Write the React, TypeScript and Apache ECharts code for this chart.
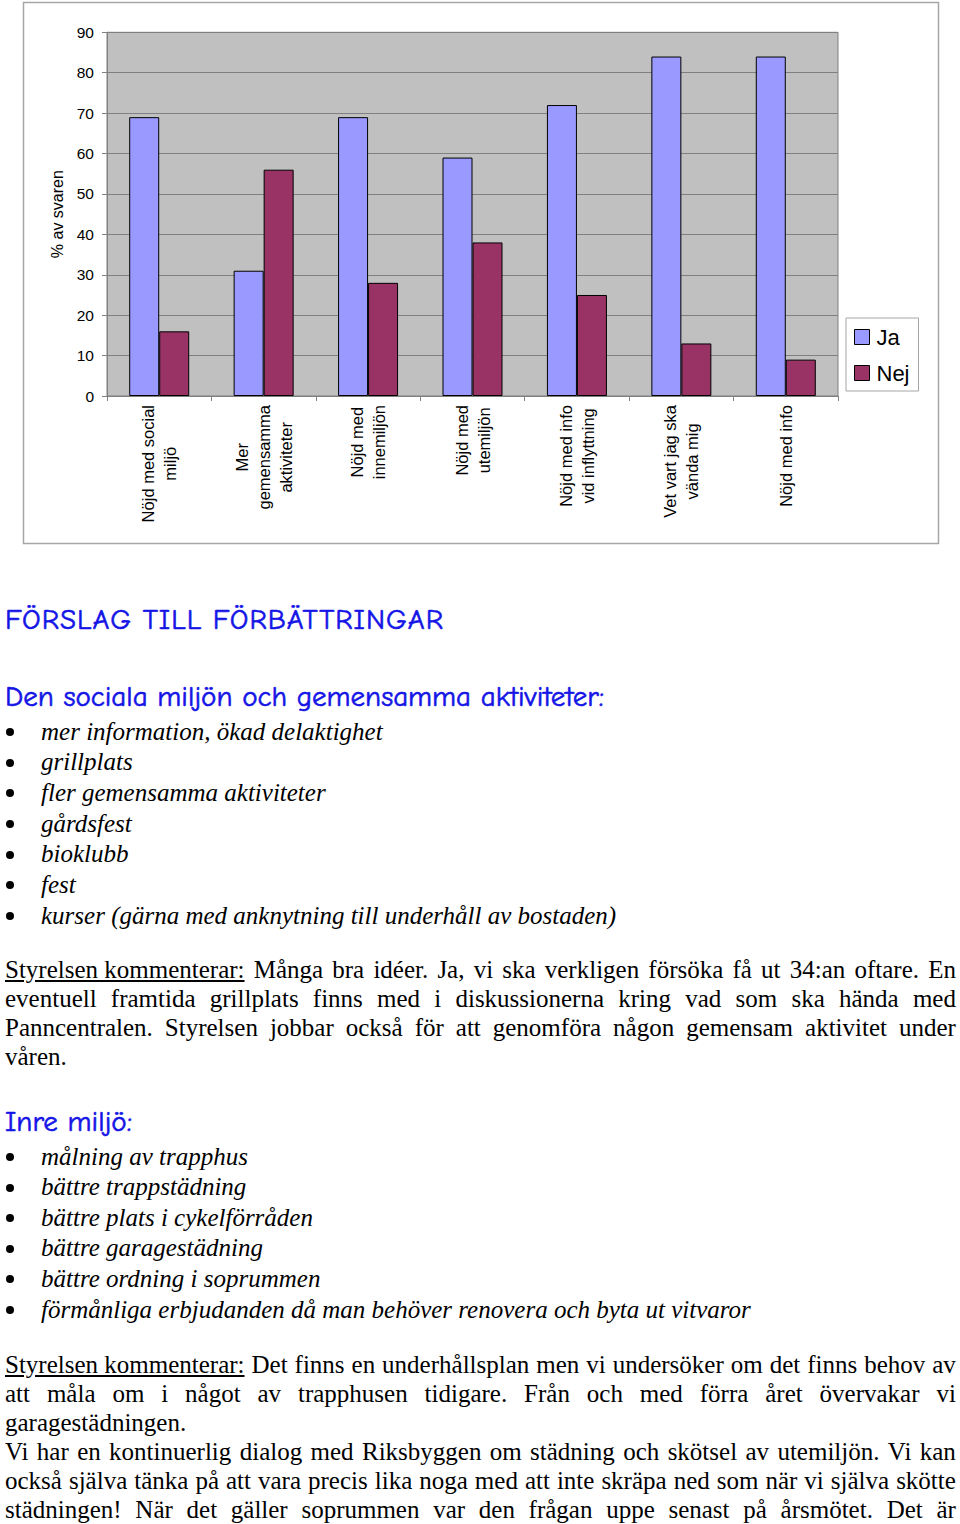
import React, { useEffect, useRef } from "react";
import * as echarts from "echarts";

const categories = [
  "Nöjd med social\nmiljö",
  "Mer\ngemensamma\naktiviteter",
  "Nöjd med\ninnemiljön",
  "Nöjd med\nutemiljön",
  "Nöjd med info\nvid inflyttning",
  "Vet vart jag ska\nvända mig",
  "Nöjd med info",
];
const jaValues = [69, 31, 69, 59, 72, 84, 84];
const nejValues = [16, 56, 28, 38, 25, 13, 9];
const seriesNames = ["Ja", "Nej"];
const yMin = 0;
const yMax = 90;
const yInterval = 10;
const yAxisName = "% av svaren";

const heading1 = "FÖRSLAG TILL FÖRBÄTTRINGAR";
const heading2 = "Den sociala miljön och gemensamma aktiviteter:";
const list1 = [
  "mer information, ökad delaktighet",
  "grillplats",
  "fler gemensamma aktiviteter",
  "gårdsfest",
  "bioklubb",
  "fest",
  "kurser (gärna med anknytning till underhåll av bostaden)",
];
const comment = "Styrelsen kommenterar:";
const para1 = [
  "Många bra idéer. Ja, vi ska verkligen försöka få ut 34:an oftare. En",
  "eventuell framtida grillplats finns med i diskussionerna kring vad som ska hända med",
  "Panncentralen. Styrelsen jobbar också för att genomföra någon gemensam aktivitet under",
  "våren.",
];
const heading3 = "Inre miljö:";
const list2 = [
  "målning av trapphus",
  "bättre trappstädning",
  "bättre plats i cykelförråden",
  "bättre garagestädning",
  "bättre ordning i soprummen",
  "förmånliga erbjudanden då man behöver renovera och byta ut vitvaror",
];
const para2 = [
  "Det finns en underhållsplan men vi undersöker om det finns behov av",
  "att måla om i något av trapphusen tidigare. Från och med förra året övervakar vi",
  "garagestädningen.",
  "Vi har en kontinuerlig dialog med Riksbyggen om städning och skötsel av utemiljön. Vi kan",
  "också själva tänka på att vara precis lika noga med att inte skräpa ned som när vi själva skötte",
  "städningen! När det gäller soprummen var den frågan uppe senast på årsmötet. Det är",
];
const para2Justified = [true, true, false, true, true, true];
const para1Justified = [true, true, true, false];

const ARIAL = 'Arial, "Liberation Sans", sans-serif';
const SERIF = '"Times New Roman", "Liberation Serif", serif';
const COMIC = '"Comic Sans MS", "Comic Neue", Lato, sans-serif';
const BLUE = "#1414E6";

function Chart() {
  const ref = useRef<HTMLDivElement>(null);
  useEffect(() => {
    if (!ref.current) return;
    const chart = echarts.init(ref.current, null, { renderer: "svg" });
    chart.setOption({
      animation: false,
      textStyle: { fontFamily: ARIAL },
      graphic: [
        {
          type: "rect",
          shape: { x: 23.5, y: 2.5, width: 915, height: 541 },
          style: { fill: "none", stroke: "#A6A6A6", lineWidth: 1.5 },
          z: -10,
        },
      ],
      grid: {
        left: 107,
        right: 122,
        top: 32.3,
        bottom: 154,
        show: true,
        backgroundColor: "#C0C0C0",
        borderColor: "#808080",
        borderWidth: 1,
      },
      legend: {
        orient: "vertical",
        left: 846,
        top: 318,
        padding: [7, 9, 6, 8],
        itemWidth: 15,
        itemHeight: 15,
        itemGap: 12,
        backgroundColor: "#FFFFFF",
        borderColor: "#A6A6A6",
        borderWidth: 1,
        icon: "rect",
        itemStyle: { borderColor: "#000000", borderWidth: 1 },
        textStyle: { fontSize: 22, lineHeight: 24, color: "#000", fontFamily: ARIAL, padding: [0, 0, 0, 2] },
        data: seriesNames,
      },
      xAxis: {
        type: "category",
        data: categories,
        axisLine: { show: true, lineStyle: { color: "#808080", width: 1 } },
        axisTick: { show: true, length: 5, lineStyle: { color: "#808080" } },
        splitLine: { show: false },
        axisLabel: {
          interval: 0,
          rotate: 90,
          margin: 9,
          color: "#000",
          fontSize: 16.5,
          lineHeight: 22,
          fontFamily: ARIAL,
          formatter: (v: string) => v.split("\n").map((l) => `{c|${l}}`).join("\n"),
          rich: {
            c: { align: "center", fontSize: 16.5, lineHeight: 22, color: "#000", fontFamily: ARIAL },
          },
        },
      },
      yAxis: {
        type: "value",
        min: yMin,
        max: yMax,
        interval: yInterval,
        name: yAxisName,
        nameLocation: "middle",
        nameGap: 40,
        nameTextStyle: { fontSize: 16, color: "#000", fontFamily: ARIAL },
        axisLine: { show: true, lineStyle: { color: "#808080", width: 1 } },
        axisTick: { show: true, length: 5, lineStyle: { color: "#808080" } },
        splitLine: { show: true, lineStyle: { color: "#808080", width: 1 } },
        axisLabel: { margin: 13, color: "#000", fontSize: 15.5, fontFamily: ARIAL },
      },
      series: [
        {
          name: seriesNames[0],
          type: "bar",
          data: jaValues,
          barWidth: 30,
          barGap: "0%",
          itemStyle: { color: "#9999FF", borderColor: "#000000", borderWidth: 1 },
        },
        {
          name: seriesNames[1],
          type: "bar",
          data: nejValues,
          barWidth: 30,
          barGap: "0%",
          itemStyle: { color: "#993366", borderColor: "#000000", borderWidth: 1 },
        },
      ],
    });
    return () => chart.dispose();
  }, []);
  return <div ref={ref} style={{ position: "absolute", left: 0, top: 0, width: 960, height: 550 }} />;
}

const bodyFont: React.CSSProperties = { fontFamily: SERIF, fontSize: 25, color: "#000" };

function Heading({ text, top, spacing }: { text: string; top: number; spacing?: number }) {
  return (
    <div
      style={{
        position: "absolute",
        left: 5,
        top,
        fontFamily: COMIC,
        fontSize: 29,
        lineHeight: "32px",
        color: BLUE,
        whiteSpace: "nowrap",
        letterSpacing: spacing ?? 0,
        WebkitTextStroke: `0.6px ${BLUE}`,
      }}
    >
      {text}
    </div>
  );
}

function BulletList({ items, top, lh }: { items: string[]; top: number; lh: number }) {
  return (
    <div style={{ position: "absolute", left: 0, top, width: 960 }}>
      {items.map((t, i) => (
        <div key={i} style={{ position: "relative", height: lh, lineHeight: `${lh}px`, ...bodyFont }}>
          <span
            style={{
              position: "absolute",
              left: 6,
              top: lh / 2 - 4,
              width: 8,
              height: 8,
              borderRadius: "50%",
              background: "#000",
            }}
          />
          <span style={{ position: "absolute", left: 41, fontStyle: "italic", whiteSpace: "nowrap" }}>{t}</span>
        </div>
      ))}
    </div>
  );
}

function JustLine({ text, lead, justify, lh }: { text: string; lead?: boolean; justify: boolean; lh: number }) {
  const words = text.split(" ");
  const parts: React.ReactNode[] = [];
  if (lead) {
    parts.push(
      <span key="lead" style={{ textDecoration: "underline", whiteSpace: "pre" }}>
        {comment}
      </span>
    );
  }
  words.forEach((w, i) => parts.push(<span key={i} style={{ whiteSpace: "pre" }}>{w}</span>));
  return (
    <div
      style={{
        display: "flex",
        justifyContent: justify ? "space-between" : "flex-start",
        gap: justify ? 0 : "0.25em",
        height: lh,
        lineHeight: `${lh}px`,
        whiteSpace: "nowrap",
        ...bodyFont,
      }}
    >
      {parts}
    </div>
  );
}

function Paragraph({ lines, just, top, lh, leadFirst }: { lines: string[]; just: boolean[]; top: number; lh: number; leadFirst: boolean }) {
  return (
    <div style={{ position: "absolute", left: 5, top, width: 951 }}>
      {lines.map((l, i) => (
        <JustLine key={i} text={l} lead={leadFirst && i === 0} justify={just[i]} lh={lh} />
      ))}
    </div>
  );
}

export default function App() {
  return (
    <div
      style={{
        position: "absolute",
        left: 0,
        top: 0,
        width: 960,
        height: 1524,
        overflow: "hidden",
        background: "#fff",
      }}
    >
      <Chart />
      <Heading text={heading1} top={604} spacing={1} />
      <Heading text={heading2} top={681} />
      <BulletList items={list1} top={716.6} lh={30.7} />
      <Paragraph lines={para1} just={para1Justified} top={954.5} lh={29} leadFirst={true} />
      <Heading text={heading3} top={1106} />
      <BulletList items={list2} top={1141.7} lh={30.6} />
      <Paragraph lines={para2} just={para2Justified} top={1349.5} lh={29} leadFirst={true} />
    </div>
  );
}
